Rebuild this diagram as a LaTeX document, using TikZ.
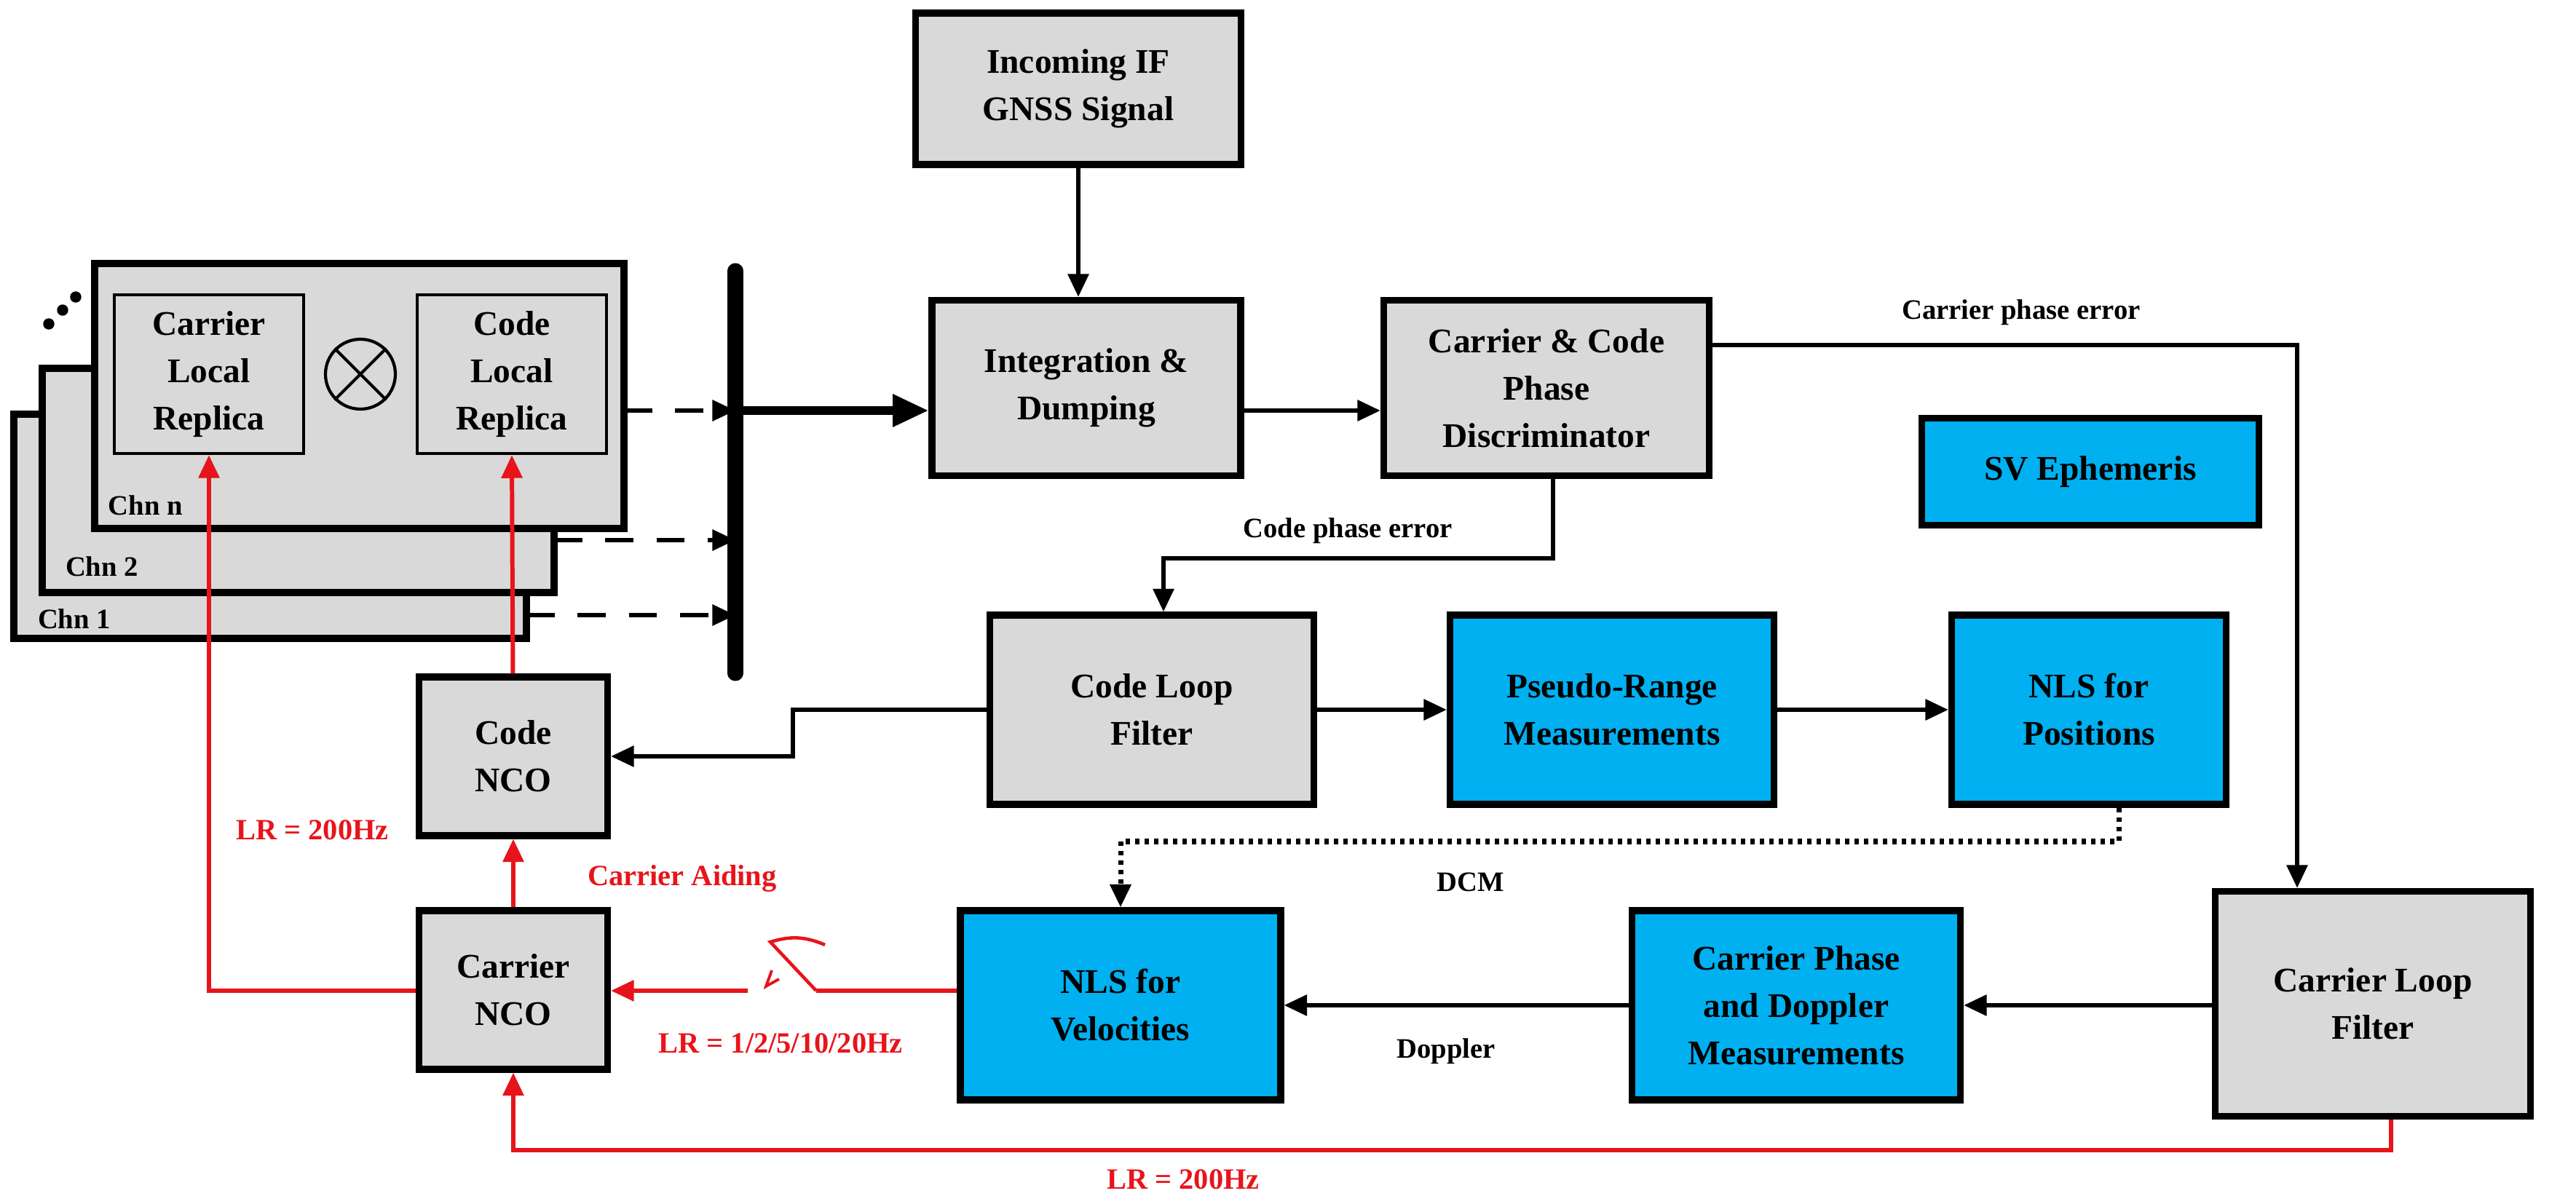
\documentclass[tikz,border=0pt]{standalone}
\usepackage{fontspec}
\setmainfont{Liberation Serif}
\usetikzlibrary{arrows.meta,positioning}
\definecolor{boxgray}{HTML}{D9D9D9}
\definecolor{navblue}{HTML}{00B0F0}
\definecolor{aidred}{HTML}{E8141B}

\begin{document}
\begin{tikzpicture}[x=1cm,y=1cm]

\tikzset{blk/.style={draw,line width=2.6pt,fill=boxgray,align=center,font=\bfseries\fontsize{13.5}{18.5}\selectfont},
  nav/.style={blk,fill=navblue},
  chn/.style={draw,line width=2.6pt,fill=boxgray},
  rep/.style={draw,line width=1.2pt,fill=boxgray,minimum width=2.6cm,minimum height=2.18cm,align=center,font=\bfseries\fontsize{13.5}{18.5}\selectfont},
  sig/.style={line width=1.7pt,-{Triangle[length=9pt,width=8pt]}},
  bus/.style={sig,dash pattern=on 11pt off 9pt},
  aid/.style={sig,draw=aidred},
  lbl/.style={font=\bfseries\fontsize{11}{13}\selectfont},
  rlbl/.style={font=\bfseries\fontsize{11.5}{13}\selectfont,text=aidred}}

\useasboundingbox (0,0) rectangle (35.38,16.53);

% channels
\draw[chn] (0.19,7.76) rectangle (7.23,10.84);
\draw[chn] (0.58,8.39) rectangle (7.61,11.47);
\draw[chn] (1.30,9.27) rectangle (8.57,12.91);
\node[lbl] (c1) at (1.02,8.03) {Chn 1};
\node[lbl] (c2) at (1.40,8.75) {Chn 2};
\node[lbl] (cn) at (2.00,9.59) {Chn n};
\foreach \p in {(0.67,12.08),(0.86,12.27),(1.04,12.45)}
  \fill \p circle (2.2pt);
\node[rep] (carrep) at (2.87,11.39) {Carrier\\Local\\Replica};
\node[rep] (coderep) at (7.03,11.39) {Code\\Local\\Replica};
\node[draw,circle,line width=1.2pt,minimum size=0.96cm] (mix) at (4.95,11.39) {};
\draw[line width=1.2pt] (mix.north west) -- (mix.south east) (mix.north east) -- (mix.south west);

% bus
\coordinate (bustop) at (10.10,12.81);
\coordinate (busbot) at (10.10,7.28);
\draw[line width=6pt,line cap=round] (bustop) -- (busbot);
\coordinate (dn) at (10.10,10.89);
\coordinate (d2) at (10.10,9.11);
\coordinate (d1) at (10.10,8.08);
\draw[bus] (8.57,10.89) -- (dn);
\draw[bus] (7.61,9.11) -- (d2);
\draw[bus] (7.23,8.08) -- (d1);

% blocks
\node[blk,minimum width=4.47cm,minimum height=2.08cm] (inc) at (14.81,15.31) {Incoming IF\\GNSS Signal};
\node[blk,minimum width=4.24cm,minimum height=2.41cm] (integ) at (14.92,11.20) {Integration \&\\Dumping};
\node[blk,minimum width=4.47cm,minimum height=2.41cm] (disc) at (21.24,11.20) {Carrier \& Code\\Phase\\Discriminator};
\node[nav,minimum width=4.63cm,minimum height=1.47cm] (eph) at (28.71,10.05) {SV Ephemeris};
\node[blk,minimum width=4.45cm,minimum height=2.6cm] (codelf) at (15.82,6.78) {Code Loop\\Filter};
\node[nav,minimum width=4.45cm,minimum height=2.6cm] (pseudo) at (22.14,6.78) {Pseudo-Range\\Measurements};
\node[nav,minimum width=3.77cm,minimum height=2.6cm] (nlspos) at (28.69,6.78) {NLS for\\Positions};
\node[blk,minimum width=4.33cm,minimum height=3.09cm] (carlf) at (32.59,2.74) {Carrier Loop\\Filter};
\node[nav,minimum width=4.51cm,minimum height=2.6cm] (cpd) at (24.67,2.72) {Carrier Phase\\and Doppler\\Measurements};
\node[nav,minimum width=4.40cm,minimum height=2.6cm] (nlsvel) at (15.39,2.72) {NLS for\\Velocities};
\node[blk,minimum width=2.59cm,minimum height=2.18cm] (carnco) at (7.05,2.93) {Carrier\\NCO};
\node[blk,minimum width=2.59cm,minimum height=2.18cm] (codenco) at (7.05,6.14) {Code\\NCO};

% signal paths
\draw[sig] (inc.south) -- (inc.south |- integ.north);
\draw[line width=3.2pt,-{Triangle[length=14pt,width=12pt]}] (dn) -- (integ.west |- dn);
\draw[sig] (integ.east |- dn) -- (disc.west |- dn);
\draw[sig] (disc.east |- 0,11.79) -| (31.55,0 |- carlf.north);
\node[lbl] (cpe) at (27.76,12.24) {Carrier phase error};
\draw[sig] (21.33,0 |- disc.south) |- (15.98,8.86) -- (15.98,0 |- codelf.north);
\node[lbl] (cde) at (18.51,9.24) {Code phase error};
\draw[sig] (codelf.west) -| (10.89,6.14) -- (codenco.east);
\draw[sig] (codelf) -- (pseudo);
\draw[sig] (pseudo) -- (nlspos);
\draw[sig,dotted,line width=2pt] (29.10,0 |- nlspos.south) |- (15.39,4.97) -- (nlsvel.north);
\node[lbl] (dcm) at (20.20,4.41) {DCM};
\draw[sig] (carlf.west |- cpd) -- (cpd);
\draw[sig] (cpd) -- (nlsvel);
\node[lbl] (dop) at (19.86,2.09) {Doppler};

% aiding paths
\coordinate (swa) at (11.21,2.92);
\coordinate (swb) at (10.27,2.92);
\draw[line width=1.7pt,aidred] (nlsvel.west |- swa) -- (swa);
\draw[line width=1.3pt,aidred] (swa) -- (10.58,3.59) to[bend left=20] (11.33,3.55);
\draw[line width=1.1pt,aidred] (10.60,3.20) -- (10.52,2.98) -- (10.70,3.08);
\draw[aid] (swb) -- (carnco.east |- swb);
\node[rlbl] (lrvel) at (10.72,2.20) {LR = 1/2/5/10/20Hz};
\draw[aid] (carnco) -- (codenco);
\node[rlbl] (aiding) at (9.37,4.46) {Carrier Aiding};
\draw[aid] (carnco.west |- swb) -| (carrep.south);
\node[rlbl] (lrcar) at (4.29,5.13) {LR = 200Hz};
\draw[aid] (codenco) -- (coderep.south);
\draw[aid] (32.84,0 |- carlf.south) |- (7.05,0.73) -- (carnco.south);
\node[rlbl] (lrloop) at (16.25,0.33) {LR = 200Hz};

\end{tikzpicture}
\end{document}
